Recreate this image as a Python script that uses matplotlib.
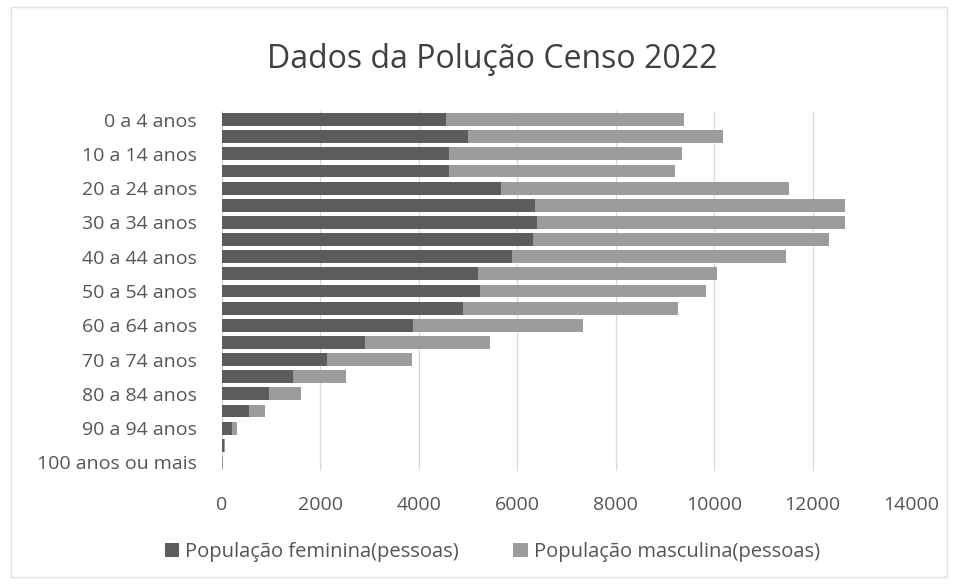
import matplotlib.pyplot as plt
import numpy as np

plt.rcParams['font.family'] = ['Open Sans', 'DejaVu Sans']

faixas = ['0 a 4 anos', '5 a 9 anos', '10 a 14 anos', '15 a 19 anos', '20 a 24 anos',
          '25 a 29 anos', '30 a 34 anos', '35 a 39 anos', '40 a 44 anos', '45 a 49 anos',
          '50 a 54 anos', '55 a 59 anos', '60 a 64 anos', '65 a 69 anos', '70 a 74 anos',
          '75 a 79 anos', '80 a 84 anos', '85 a 89 anos', '90 a 94 anos', '95 a 99 anos',
          '100 anos ou mais']
feminina = [4550, 5000, 4610, 4610, 5670, 6360, 6400, 6320, 5890, 5200,
            5240, 4890, 3880, 2900, 2130, 1440, 950, 540, 200, 45, 8]
total = [9380, 10170, 9340, 9200, 11530, 12650, 12650, 12330, 11470, 10050,
         9830, 9260, 7330, 5450, 3860, 2520, 1600, 880, 300, 60, 12]
masculina = [t - f for t, f in zip(total, feminina)]

fig = plt.figure(figsize=(9.58, 5.84), dpi=100)
ax = fig.add_axes([222 / 958, 1 - 471 / 584, 689 / 958, 360 / 584])

y = np.arange(len(faixas))
ax.barh(y, feminina, height=0.75, color='#5c5c5c', label='População feminina(pessoas)')
ax.barh(y, masculina, left=feminina, height=0.75, color='#9c9c9c',
        label='População masculina(pessoas)')

ax.set_xlim(0, 14000)
ax.set_ylim(len(faixas) - 0.5, -0.5)
ax.set_xticks(range(0, 14001, 2000))
ax.set_yticks(y[::2])
ax.set_yticklabels(faixas[::2])
ax.tick_params(axis='both', length=0, labelsize=14, colors='#555555')
ax.tick_params(axis='x', pad=18)
ax.tick_params(axis='y', pad=18)
ax.grid(axis='x', color='#d9d9d9', linewidth=0.9)
ax.set_axisbelow(True)
for s in ax.spines.values():
    s.set_visible(False)

fig.text(0.514, 1 - 60 / 584, 'Dados da Polução Censo 2022', ha='center', va='center',
         fontsize=23, color='#404040')

fig.legend(loc='center', bbox_to_anchor=(0.514, 1 - 552 / 584), ncol=2, frameon=False,
           fontsize=14.5, handlelength=0.7, handleheight=0.7, columnspacing=2.7,
           handletextpad=0.3, labelcolor='#555555')

fig.patches.append(plt.Rectangle((0.012, 0.012), 0.976, 0.976, transform=fig.transFigure,
                                 fill=False, edgecolor='#e0e0e0', linewidth=1))

fig.savefig('out.png', dpi=100)
